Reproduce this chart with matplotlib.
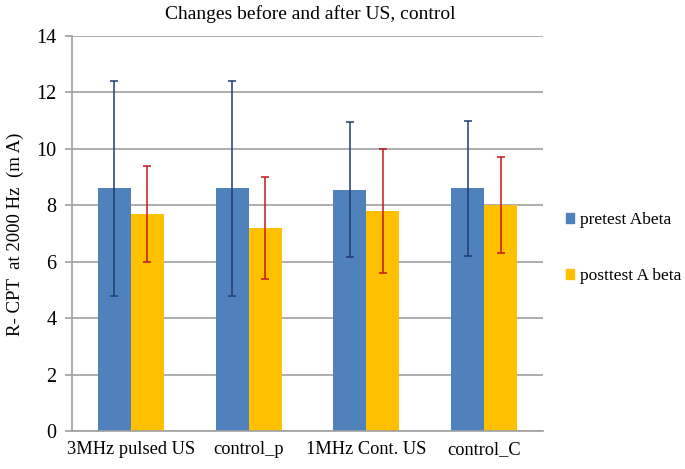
import matplotlib
matplotlib.use("Agg")
import matplotlib.pyplot as plt
import numpy as np
from matplotlib.patches import Patch

categories = ["3MHz pulsed US", "control_p", "1MHz Cont. US", "control_C"]
pretest = [8.6, 8.6, 8.55, 8.6]
pretest_err = [3.8, 3.8, 2.4, 2.4]
posttest = [7.7, 7.2, 7.8, 8.0]
posttest_err = [1.7, 1.8, 2.2, 1.7]
yticks = [0, 2, 4, 6, 8, 10, 12, 14]

plt.rcParams['font.family'] = ['Liberation Serif', 'DejaVu Serif']

fig = plt.figure(figsize=(6.85, 4.69), dpi=100)
L, R, T, B = 72, 543, 36, 431
ax = fig.add_axes([L/685, 1 - B/469, (R-L)/685, (B-T)/469])

x = np.arange(len(categories))
w = 0.28
ax.bar(x - w/2, pretest, w, color='#4F81BD', zorder=2)
ax.bar(x + w/2, posttest, w, color='#FFC000', zorder=2)
ax.errorbar(x - w/2, pretest, yerr=pretest_err, fmt='none', ecolor='#1F3C6E',
            elinewidth=1.1, capsize=2.6, capthick=1.1, zorder=3)
ax.errorbar(x + w/2, posttest, yerr=posttest_err, fmt='none', ecolor='#C8161D',
            elinewidth=1.1, capsize=2.6, capthick=1.1, zorder=3)

ax.set_xlim(-0.5, len(categories) - 0.5)
ax.set_ylim(0, 14)
ax.set_yticks(yticks)
ax.set_yticklabels([str(t) for t in yticks], fontsize=14.5)
ax.set_xticks(x)
ax.set_xticklabels(categories, fontsize=13.2)
ax.tick_params(axis='x', length=0, pad=7)
ax.tick_params(axis='y', length=5, color='#A0A0A0', width=1.2, pad=6)
ax.yaxis.grid(True, color='#A0A0A0', linewidth=1.2, zorder=0)
ax.set_axisbelow(True)
for s in ['top', 'right']:
    ax.spines[s].set_visible(False)
for s in ['left', 'bottom']:
    ax.spines[s].set_color('#A0A0A0')
    ax.spines[s].set_linewidth(1.2)

ax.set_ylabel("R- CPT  at 2000 Hz  (m A)", fontsize=13.5)
ax.yaxis.set_label_coords((24 - L) / (R - L), (B - 234) / (B - T))
fig.text(310/685, 1 - 14/469, "Changes before and after US, control", ha='center',
         va='center', fontsize=14)

handles = [Patch(color='#4F81BD'), Patch(color='#FFC000')]
fig.legend(handles, ["pretest Abeta", "posttest A beta"], loc='center left',
           bbox_to_anchor=(550/685, 1 - 248/469), frameon=False, fontsize=12.5,
           handlelength=0.5, handleheight=0.5, handletextpad=0.3, labelspacing=2.3)

fig.savefig("out.png", dpi=100)
